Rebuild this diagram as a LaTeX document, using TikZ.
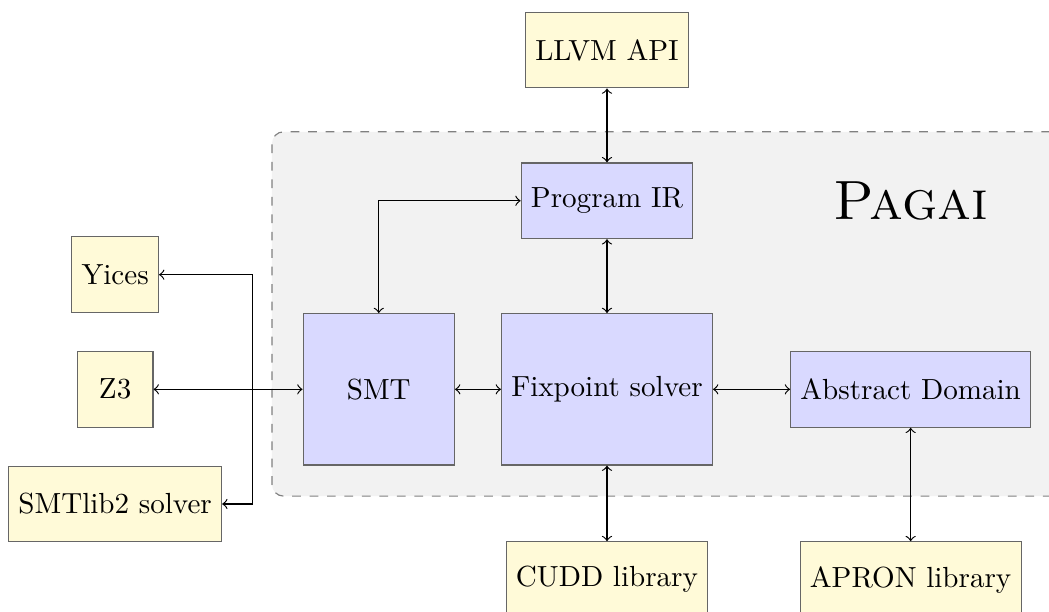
\documentclass[tikz,border=0pt]{standalone}
\usetikzlibrary{positioning, fit, backgrounds, calc}

\definecolor{extyellow}{RGB}{255,250,216}
\definecolor{coreblue}{RGB}{217,217,255}

\begin{document}
\begin{tikzpicture}[
    node distance=25.4pt and 26pt,
    extbox/.style={
        rectangle, draw=black!60, fill=extyellow,
        minimum width=26pt, minimum height=26pt,
        align=center
    },
    corebox/.style={
        rectangle, draw=black!60, fill=coreblue,
        minimum width=26pt, minimum height=26pt,
        align=center
    },
    bigbox/.style={
        corebox, minimum width=52pt, minimum height=52pt
    },
    areabox/.style={
        rectangle, draw=gray, dashed, fill=gray!10,
        rounded corners=4pt, inner sep=10.5pt
    },
    arrow/.style={<->, black}
]

\useasboundingbox (-208.6pt,133.8pt) rectangle (151.9pt,-76.5pt);

% Pagai core
\node[bigbox] (fix) at (0,0) {Fixpoint solver};
\node[corebox, above=of fix] (prog) {Program IR};
\node[bigbox, left=15.8pt of fix] (smt) {SMT};
\node[corebox, right=26.5pt of fix] (ad) {Abstract Domain};

\begin{pgfonlayer}{background}
  \node[areabox, fit=(prog)(smt)(fix)(ad)] (pagai) {};
\end{pgfonlayer}
\node[font=\fontsize{19}{23}\selectfont] at (ad |- prog) {\textsc{Pagai}};

% External tools
\node[extbox, above=of prog] (llvm) {LLVM API};
\node[extbox, below=26pt of fix] (cudd) {CUDD library};
\node[extbox] (apron) at (ad |- cudd) {APRON library};

% Solvers
\node[extbox, left=51.2pt of smt] (z3) {Z3};
\node[extbox, above=13pt of z3] (yices) {Yices};
\node[extbox, below=13pt of z3] (smtlib) {SMTlib2 solver};
\coordinate (fork) at ($(smt.west)+(-0.6cm,0)$);

% Connectors
\draw[arrow] (llvm) -- (prog);
\draw[arrow] (prog) -- (fix);
\draw[arrow] (smt.north) |- (prog.west);
\draw[arrow] (smt) -- (fix);
\draw[arrow] (fix) -- (ad);
\draw[arrow] (fix) -- (cudd);
\draw[arrow] (ad) -- (apron);
\draw[arrow] (z3) -- (smt);
\draw[arrow] (yices) -| (fork) |- (smtlib);

\end{tikzpicture}
\end{document}
